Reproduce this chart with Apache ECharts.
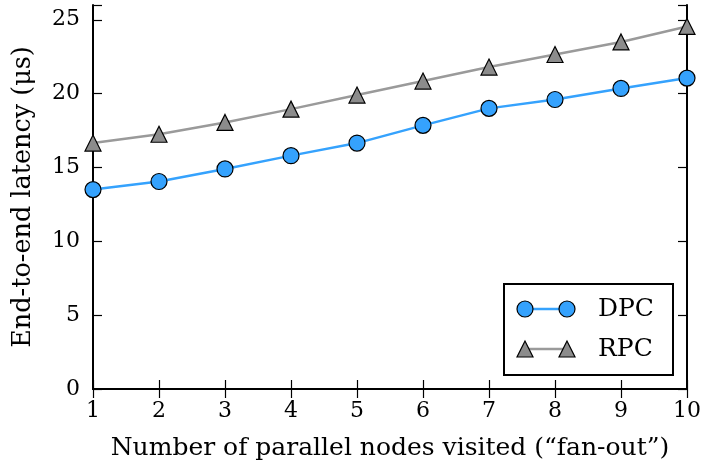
<!DOCTYPE html>
<html>
<head>
<meta charset="utf-8">
<script src="https://cdn.jsdelivr.net/npm/echarts@6/dist/echarts.min.js"></script>
<style>
  html, body { margin: 0; padding: 0; background: #fff; }
  #chart { width: 704px; height: 472px; }
</style>
</head>
<body>
<div id="chart"></div>
<script>
// Fan-out (number of parallel nodes visited)
const fanOut = [1, 2, 3, 4, 5, 6, 7, 8, 9, 10];
// End-to-end latency in microseconds
const dpcLatency = [13.5, 14.05, 14.9, 15.8, 16.65, 17.85, 19.0, 19.6, 20.35, 21.05];
const rpcLatency = [16.65, 17.25, 18.05, 18.95, 19.9, 20.85, 21.8, 22.65, 23.5, 24.55];
const yTicks = [0, 5, 10, 15, 20, 25];
const seriesNames = ['DPC', 'RPC'];

const FONT = 'DejaVu Serif';
const BLUE = '#35a2fd';
const GREY_LINE = '#9a9a9a';
const GREY_FILL = '#8c8c8c';
const LINE_W = 2.5;

const chart = echarts.init(document.getElementById('chart'), null, { renderer: 'canvas' });

const pairs = (ys) => fanOut.map((x, i) => [x, ys[i]]);

const frameAxis = {
  axisLine: { show: true, lineStyle: { color: '#000', width: 2 } },
  axisTick: { show: true, inside: true, length: 9, lineStyle: { color: '#000', width: 1.2 } },
  splitLine: { show: false }
};

const option = {
  animation: false,
  backgroundColor: '#fff',
  grid: { left: 93, right: 16, top: 5, bottom: 83, containLabel: false },
  xAxis: [
    Object.assign({
      type: 'value', min: 1, max: 10, interval: 1, position: 'bottom',
      name: 'Number of parallel nodes visited (\u201cfan-out\u201d)',
      nameLocation: 'middle', nameGap: 47,
      nameTextStyle: { fontFamily: FONT, fontSize: 25, color: '#000' },
      axisLabel: { fontFamily: FONT, fontSize: 22, color: '#000', margin: 11 }
    }, frameAxis),
    Object.assign({
      type: 'value', min: 1, max: 10, interval: 1, position: 'top',
      axisLabel: { show: false }
    }, frameAxis)
  ],
  yAxis: [
    Object.assign({
      type: 'value', min: 0, max: 26, interval: 5, position: 'left',
      name: 'End-to-end latency (\u03bcs)',
      nameLocation: 'middle', nameGap: 57, nameRotate: 90,
      nameTextStyle: { fontFamily: FONT, fontSize: 25.5, color: '#000' },
      axisLabel: {
        fontFamily: FONT, fontSize: 22, color: '#000', margin: 13,
        formatter: (v) => (yTicks.includes(v) ? String(v) : '')
      }
    }, frameAxis),
    Object.assign({
      type: 'value', min: 0, max: 26, interval: 5, position: 'right',
      axisLabel: { show: false }
    }, frameAxis)
  ],
  series: [
    {
      name: seriesNames[0], type: 'line', data: pairs(dpcLatency),
      xAxisIndex: 0, yAxisIndex: 0,
      symbol: 'circle', symbolSize: 16, showAllSymbol: true,
      lineStyle: { color: BLUE, width: LINE_W },
      itemStyle: { color: BLUE, borderColor: '#000', borderWidth: 1.2 },
      z: 3
    },
    {
      name: seriesNames[1], type: 'line', data: pairs(rpcLatency),
      xAxisIndex: 0, yAxisIndex: 0,
      symbol: 'triangle', symbolSize: 16, showAllSymbol: true,
      lineStyle: { color: GREY_LINE, width: LINE_W },
      itemStyle: { color: GREY_FILL, borderColor: '#000', borderWidth: 1.2 },
      z: 2
    }
  ],
  graphic: [
    {
      type: 'group', right: 30, bottom: 96,
      children: [
        { type: 'rect', shape: { x: 0, y: 0, width: 169, height: 91 },
          style: { fill: '#fff', stroke: '#000', lineWidth: 2 } },
        { type: 'line', shape: { x1: 21, y1: 25, x2: 63, y2: 25 },
          style: { stroke: BLUE, lineWidth: LINE_W } },
        { type: 'circle', shape: { cx: 21, cy: 25, r: 8 },
          style: { fill: BLUE, stroke: '#000', lineWidth: 1.2 } },
        { type: 'circle', shape: { cx: 63, cy: 25, r: 8 },
          style: { fill: BLUE, stroke: '#000', lineWidth: 1.2 } },
        { type: 'text', x: 94, y: 25,
          style: { text: seriesNames[0], font: '25px "' + FONT + '"', fill: '#000', verticalAlign: 'middle' } },
        { type: 'line', shape: { x1: 21, y1: 65, x2: 63, y2: 65 },
          style: { stroke: GREY_LINE, lineWidth: LINE_W } },
        { type: 'polygon', shape: { points: [[21, 57], [13, 73], [29, 73]] },
          style: { fill: GREY_FILL, stroke: '#000', lineWidth: 1.2 } },
        { type: 'polygon', shape: { points: [[63, 57], [55, 73], [71, 73]] },
          style: { fill: GREY_FILL, stroke: '#000', lineWidth: 1.2 } },
        { type: 'text', x: 94, y: 65,
          style: { text: seriesNames[1], font: '25px "' + FONT + '"', fill: '#000', verticalAlign: 'middle' } }
      ]
    }
  ]
};

chart.setOption(option);
</script>
</body>
</html>
